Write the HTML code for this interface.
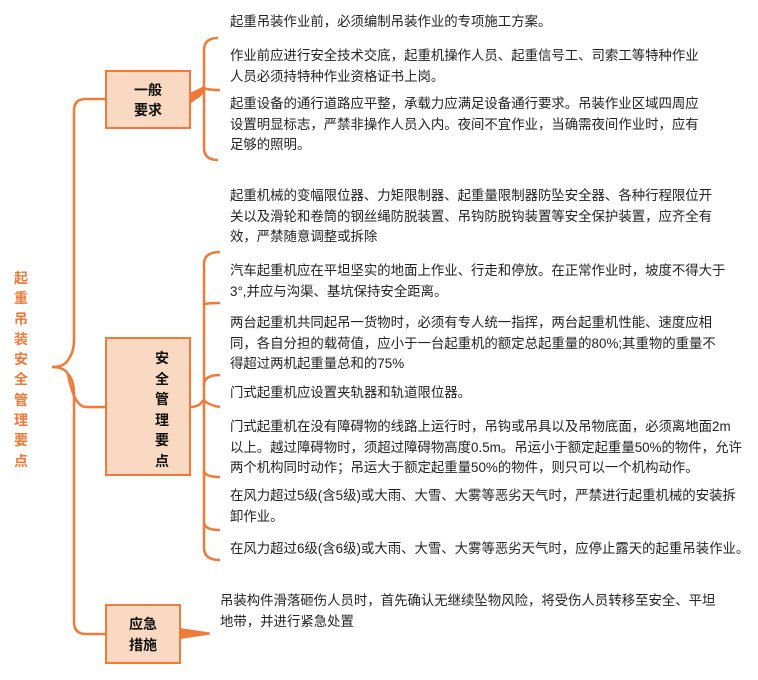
<!DOCTYPE html>
<html><head><meta charset="utf-8"><style>
body{margin:0;width:758px;height:680px;background:#fff;position:relative;overflow:hidden;font-family:"Liberation Sans","Noto Sans CJK SC",sans-serif;}
.t{position:absolute;font-size:13.4px;line-height:20.5px;color:#222;white-space:nowrap;}
.box{position:absolute;background:#f9d9c2;border:2px solid #f07a3a;box-sizing:border-box;font-weight:bold;font-size:14px;color:#111;text-align:center;}
.title{position:absolute;left:13px;top:268px;width:16px;color:#f07a3a;font-weight:bold;font-size:14px;line-height:20.3px;text-align:center;}
</style></head><body>
<svg width="758" height="680" style="position:absolute;left:0;top:0" fill="none" stroke="#f07a3a" stroke-width="2.5">
<path d="M52 367 Q64 367 68 360 Q74 352 74 340 L74 110 Q74 99 86 99 L105 99"/>
<path d="M68 374 Q74 380 74 395 L74 622 Q74 634 86 634 L105 634"/>
<path d="M68 374 Q74 407 86 407 L105 407"/>
<path d="M52 367 Q64 367 68 374"/>
<path d="M190 99 Q200 99 203 90"/>
<path d="M218 38 Q204 38 204 50 L204 148 Q204 160 218 160"/>
<path d="M204 88 Q208 90 220 90"/>
<path d="M190 407 Q200 407 203 400"/>
<path d="M220 252 Q204 252 204 264 L204 548 Q204 560 220 560"/>
<path d="M204 305 Q204 303 220 303"/>
<path d="M204 385 Q204 375 220 375"/>
<path d="M204 400 Q208 405 220 407"/>
<path d="M204 470 Q204 477 220 477"/>
<path d="M204 522 Q204 530 220 530"/>
</svg>
<svg width="758" height="680" style="position:absolute;left:0;top:0">
<polygon points="180,628 210,632.5 210,634.5 180,639" fill="#f07a3a"/>
<polygon points="190,93 204,86 204,93 190,104" fill="#f07a3a"/>
<polygon points="136,398 139,406 147,406 141,411 143,419 136,414 129,419 131,411 125,406 133,406" fill="#d02030"/>
</svg>
<div class="title">起<br>重<br>吊<br>装<br>安<br>全<br>管<br>理<br>要<br>点</div>
<div class="box" style="left:105px;top:70px;width:86px;height:59px;padding-top:8px;line-height:20px;">一般<br>要求</div>
<div class="box" style="left:105px;top:337px;width:86px;height:139px;"><div style="position:absolute;left:47px;top:9px;line-height:20.5px;width:16px;">安<br>全<br>管<br>理<br>要<br>点</div></div>
<div class="box" style="left:105px;top:604px;width:76px;height:60px;padding-top:8px;line-height:21px;">应急<br>措施</div>

<div class="t" style="left:230px;top:12px">起重吊装作业前，必须编制吊装作业的专项施工方案。</div>
<div class="t" style="left:230px;top:46px">作业前应进行安全技术交底，起重机操作人员、起重信号工、司索工等特种作业<br>人员必须持特种作业资格证书上岗。</div>
<div class="t" style="left:230px;top:94px">起重设备的通行道路应平整，承载力应满足设备通行要求。吊装作业区域四周应<br>设置明显标志，严禁非操作人员入内。夜间不宜作业，当确需夜间作业时，应有<br>足够的照明。</div>
<div class="t" style="left:230px;top:186px">起重机械的变幅限位器、力矩限制器、起重量限制器防坠安全器、各种行程限位开<br>关以及滑轮和卷筒的钢丝绳防脱装置、吊钩防脱钩装置等安全保护装置，应齐全有<br>效，严禁随意调整或拆除</div>
<div class="t" style="left:230px;top:261px">汽车起重机应在平坦坚实的地面上作业、行走和停放。在正常作业时，坡度不得大于<br>3°,并应与沟渠、基坑保持安全距离。</div>
<div class="t" style="left:230px;top:313px">两台起重机共同起吊一货物时，必须有专人统一指挥，两台起重机性能、速度应相<br>同，各自分担的载荷值，应小于一台起重机的额定总起重量的80%;其重物的重量不<br>得超过两机起重量总和的75%</div>
<div class="t" style="left:230px;top:383px">门式起重机应设置夹轨器和轨道限位器。</div>
<div class="t" style="left:230px;top:417px">门式起重机在没有障碍物的线路上运行时，吊钩或吊具以及吊物底面，必须离地面2m<br>以上。越过障碍物时，须超过障碍物高度0.5m。吊运小于额定起重量50%的物件，允许<br>两个机构同时动作；吊运大于额定起重量50%的物件，则只可以一个机构动作。</div>
<div class="t" style="left:230px;top:486px">在风力超过5级(含5级)或大雨、大雪、大雾等恶劣天气时，严禁进行起重机械的安装拆<br>卸作业。</div>
<div class="t" style="left:230px;top:539px">在风力超过6级(含6级)或大雨、大雪、大雾等恶劣天气时，应停止露天的起重吊装作业。</div>
<div class="t" style="left:220px;top:591px">吊装构件滑落砸伤人员时，首先确认无继续坠物风险，将受伤人员转移至安全、平坦<br>地带，并进行紧急处置</div>
</body></html>
